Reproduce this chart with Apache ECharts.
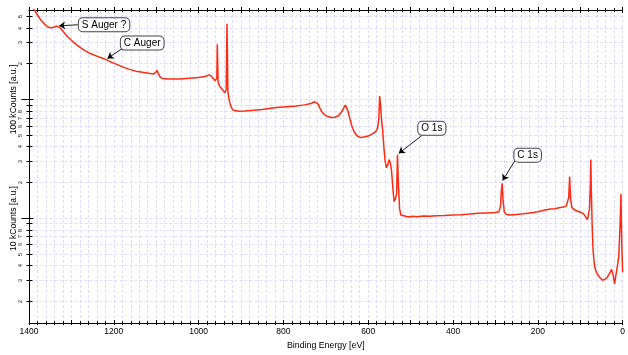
<!DOCTYPE html>
<html><head><meta charset="utf-8">
<script src="https://cdn.jsdelivr.net/npm/echarts@6/dist/echarts.min.js"></script>
<style>html,body{margin:0;padding:0;background:#fff}#c{width:628px;height:355px}</style>
</head><body><div id="c"></div>
<script>
// Binding energy [eV] and counts
const energy = [
  1394,1390,1386,1380,1374,1366,1358,1352,1346,1340,
  1335,1331,1326,1320,1310,1297,1285,1273,1257,1240,
  1228,1217,1205,1193,1178,1163,1148,1132,1118,1106,
  1101,1098,1095,1091,1085,1070,1045,1022,1000,985,
  976,971,966,961,957,956,954,950,946,942,
  938,935,933,931,929,926,922,918,914,905,
  890,870,850,830,810,790,770,750,735,726,
  722,718,714,709,703,696,686,678,670,663,
  658,654,651,648,644,639,633,626,618,610,
  600,590,582,578,575,573,571,569,566,563,
  560,557,554,551,548,545,542,539,536,533,
  531,529,526,523,519,514,505,495,485,470,
  455,440,420,400,380,360,341,320,300,292,
  288,286,284,282,279,274,265,250,235,223,
  210,200,190,183,170,160,150,140,133,129,
  127,125,123,120,117,112,106,100,95,90,
  86,83,80,78,76,75,74,72,70,68,
  66,62,59,53,47,42,37,31,26,22,
  19,16,12,9,6,4,2,0
];
const counts = [
  600000,590000,555000,510000,473000,438000,410000,400000,398000,404000,
  412000,410000,395000,372000,338000,305000,282000,262000,243000,230000,
  222000,214000,204000,196000,186000,178000,172000,168000,165000,163000,
  168000,175000,164000,154000,149000,148000,148000,150000,152000,155000,
  160000,157000,150000,143000,150000,290000,138000,128000,123000,119000,
  113000,120000,430000,118000,103000,92000,84000,80500,79500,79000,
  79500,80500,82000,84000,85500,86500,87500,89500,92000,95000,
  97000,91000,84000,78000,74000,71500,70000,70500,72500,78000,
  84000,89000,91000,80000,70000,60000,53000,49000,47500,48000,
  49000,51000,53500,57000,68000,106000,90000,70000,55000,39000,
  30000,26500,28000,31000,29000,25000,18000,13800,14500,16000,
  34000,20000,12000,10600,10300,10400,10200,10350,10250,10400,
  10350,10450,10500,10600,10650,10800,10950,11050,11150,11300,
  12500,17000,19600,14000,11200,10700,10600,10700,10850,11000,
  11150,11300,11500,11700,11900,12000,12200,12400,12600,12900,
  15000,22400,15000,12300,11900,11600,11400,11200,11000,10600,
  10200,9700,9900,12000,20000,31000,18000,9000,5600,4500,
  3900,3500,3350,3150,3000,3050,3150,3400,3700,3250,
  2800,3300,4000,4800,9000,16000,6000,3500
];
const xLabelValues = [0,200,400,600,800,1000,1200,1400];
const yTickValues = [
  2000,3000,4000,5000,6000,7000,8000,9000,
  10000,20000,30000,40000,50000,60000,70000,80000,90000,
  100000,200000,300000,400000,500000
];
const yTickLabels = [
  '2','3','4','5','6','7','8','',
  '10 kCounts [a.u.]','2','3','4','5','6','7','8','',
  '100 kCounts [a.u.]','2','3','4','5'
];
const annotationNames = ['S Auger ?','C Auger','O 1s','C 1s'];

const X_MIN = 0, X_MAX = 1400, Y_MIN = 1308, Y_MAX = 562000;
const FONT = "'Liberation Sans', Arial, sans-serif";
const GRID_COLOR = '#dedefb';

const spectrum = energy.map((e, i) => [e, counts[i]]);

function renderYTick(params, api) {
  const i = params.dataIndex;
  const v = api.value(1);
  const pL = api.coord([X_MAX, v]);
  const pR = api.coord([X_MIN, v]);
  const y = Math.round(pL[1]) + 0.5;
  const x0 = Math.round(pL[0]) + 0.5;
  const major = Math.abs(Math.log10(v) - Math.round(Math.log10(v))) < 1e-9;
  const label = yTickLabels[i];
  const children = [
    { type: 'line', shape: { x1: x0, y1: y, x2: pR[0], y2: y },
      style: { stroke: GRID_COLOR, lineWidth: 1, lineDash: [3, 2] } },
    { type: 'line', shape: { x1: x0 - (major ? 8 : 3), y1: y, x2: x0 + (major ? 4 : 3), y2: y },
      style: { stroke: '#000', lineWidth: 1 } }
  ];
  if (label) {
    children.push({
      type: 'text', x: major ? x0 - 16 : x0 - 9, y: y, rotation: Math.PI / 2,
      style: { text: label, fontSize: major ? 8.6 : 6, fontFamily: FONT,
        fill: major ? '#000' : '#222', align: 'center', verticalAlign: 'middle' }
    });
  }
  return { type: 'group', children };
}

const baseX = {
  type: 'value', inverse: true, min: X_MIN, max: X_MAX, interval: 100
};

const chart = echarts.init(document.getElementById('c'), null, { renderer: 'canvas' });
chart.setOption({
  animation: false,
  backgroundColor: '#fff',
  grid: { left: 29, right: 3, top: 10, bottom: 29, containLabel: false },
  xAxis: [
    Object.assign({}, baseX, {
      position: 'bottom',
      name: 'Binding Energy [eV]', nameLocation: 'middle', nameGap: 17,
      nameTextStyle: { fontSize: 8.8, fontFamily: FONT, color: '#000' },
      axisLine: { show: true, onZero: false, lineStyle: { color: '#000', width: 1 } },
      axisTick: { show: true, inside: false, length: 2, lineStyle: { color: '#000' } },
      minorTick: { show: true, splitNumber: 5, length: 2, lineStyle: { color: '#000' } },
      axisLabel: { show: true, margin: 4, fontSize: 8.5, fontFamily: FONT, color: '#000',
        formatter: v => xLabelValues.indexOf(v) >= 0 ? String(v) : '' },
      splitLine: { show: true, lineStyle: { color: GRID_COLOR, type: [3, 2] } },
      minorSplitLine: { show: true, lineStyle: { color: GRID_COLOR, type: [3, 2] } }
    }),
    Object.assign({}, baseX, {
      position: 'bottom',
      axisLine: { show: false, onZero: false },
      axisTick: { show: true, inside: true, length: 3, lineStyle: { color: '#000' } },
      minorTick: { show: true, splitNumber: 5, length: 2, lineStyle: { color: '#000' } },
      axisLabel: { show: false }, splitLine: { show: false }
    }),
    Object.assign({}, baseX, {
      position: 'top',
      axisLine: { show: true, onZero: false, lineStyle: { color: '#000', width: 1 } },
      axisTick: { show: true, inside: false, length: 3, lineStyle: { color: '#000' } },
      minorTick: { show: true, splitNumber: 5, length: 2, lineStyle: { color: '#000' } },
      axisLabel: { show: false }, splitLine: { show: false }
    }),
    Object.assign({}, baseX, {
      position: 'top',
      axisLine: { show: false, onZero: false },
      axisTick: { show: true, inside: true, length: 3, lineStyle: { color: '#000' } },
      minorTick: { show: true, splitNumber: 5, length: 2, lineStyle: { color: '#000' } },
      axisLabel: { show: false }, splitLine: { show: false }
    })
  ],
  yAxis: {
    type: 'log', logBase: 10, min: Y_MIN, max: Y_MAX,
    axisLine: { show: true, onZero: false, lineStyle: { color: '#000', width: 1 } },
    axisTick: { show: false }, axisLabel: { show: false }, splitLine: { show: false }
  },
  series: [
    {
      type: 'custom', name: 'yticks', coordinateSystem: 'cartesian2d',
      xAxisIndex: 0, yAxisIndex: 0, silent: true, z: 1, clip: false,
      data: yTickValues.map(v => [X_MAX, v]),
      encode: { x: 0, y: 1 },
      renderItem: renderYTick
    },
    {
      type: 'line', name: 'spectrum', xAxisIndex: 0, yAxisIndex: 0, z: 3,
      data: spectrum, showSymbol: false, symbol: 'none', clip: true,
      lineStyle: { color: '#ff2a12', width: 1.5 },
      silent: true,
      markLine: {
        silent: true, symbol: ['none', 'arrow'], symbolSize: 6, animation: false,
        label: { show: false },
        lineStyle: { color: '#000', width: 0.9, type: 'solid' },
        emphasis: { disabled: true },
        data: [
          [{ coord: [1285, 422000] }, { coord: [1329, 414000] }],
          [{ coord: [1177, 271000] }, { coord: [1215, 220000] }],
          [{ coord: [474, 49200] }, { coord: [528, 35000] }],
          [{ coord: [254, 30400] }, { coord: [283, 20700] }]
        ]
      },
      markPoint: {
        silent: true, symbol: 'rect', symbolSize: 1, animation: false,
        itemStyle: { color: 'rgba(0,0,0,0)' },
        label: {
          show: true, position: 'inside', formatter: '{b}',
          fontSize: 10, fontFamily: FONT, color: '#000',
          backgroundColor: '#fff', borderColor: '#444', borderWidth: 1,
          borderRadius: 4, padding: [2, 3, 1, 3]
        },
        data: [
          { name: annotationNames[0], coord: [1223, 422000] },
          { name: annotationNames[1], coord: [1133, 296000] },
          { name: annotationNames[2], coord: [450, 56800] },
          { name: annotationNames[3], coord: [224, 33800] }
        ]
      }
    }
  ]
});
</script>
</body></html>
